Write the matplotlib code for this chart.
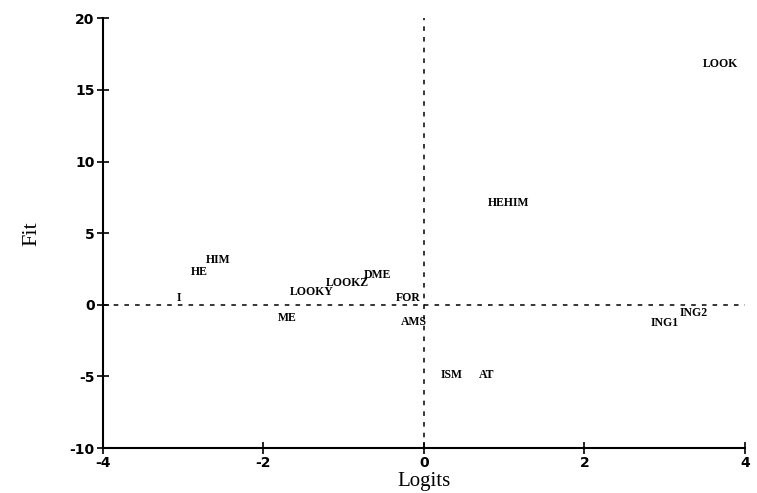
import matplotlib.pyplot as plt

# word labels with logit (x) and fit (y) positions
labels = ['LOOK', 'HEHIM', 'HIM', 'HE', 'I', 'LOOKY', 'LOOKZ', 'DME', 'FOR',
          'ME', 'AMS', 'ING1', 'ING2', 'ISM', 'AT']
logits = [3.70, 1.05, -2.56, -2.80, -3.06, -1.40, -0.95, -0.58, -0.20,
          -1.70, -0.12, 3.00, 3.36, 0.35, 0.78]
fit = [16.8, 7.1, 3.1, 2.3, 0.5, 0.9, 1.5, 2.1, 0.5,
       -0.9, -1.2, -1.3, -0.6, -4.9, -4.9]

xticks = [-4, -2, 0, 2, 4]
yticks = [-10, -5, 0, 5, 10, 15, 20]

plt.rcParams['font.family'] = 'Liberation Serif'
plt.rcParams['axes.unicode_minus'] = False

fig = plt.figure(figsize=(7.57, 4.93), dpi=100)
ax = fig.add_axes([0.136, 0.091, 0.848, 0.872])

for lab, x, y in zip(labels, logits, fit):
    ax.text(x, y, lab, ha='center', va='center', fontsize=8.5, fontweight='bold')

ax.axhline(0, color='k', linestyle=(0, (3, 4)), lw=1.1)
ax.axvline(0, color='k', linestyle=(0, (3, 4)), lw=1.1)

ax.set_xlim(-4, 4)
ax.set_ylim(-10, 20)
ax.set_xticks(xticks)
ax.set_yticks(yticks)
ax.tick_params(direction='inout', length=8, width=1.2, pad=2)
for lbl in ax.get_xticklabels() + ax.get_yticklabels():
    lbl.set_fontweight('bold')
    lbl.set_family('DejaVu Sans')
    lbl.set_fontsize(10)
ax.spines['top'].set_visible(False)
ax.spines['right'].set_visible(False)
ax.spines['left'].set_linewidth(1.5)
ax.spines['bottom'].set_linewidth(1.5)

ax.set_xlabel('Logits', fontsize=15, labelpad=1)
ax.set_ylabel('Fit', fontsize=16, labelpad=20)

fig.savefig('out.png', dpi=100)
